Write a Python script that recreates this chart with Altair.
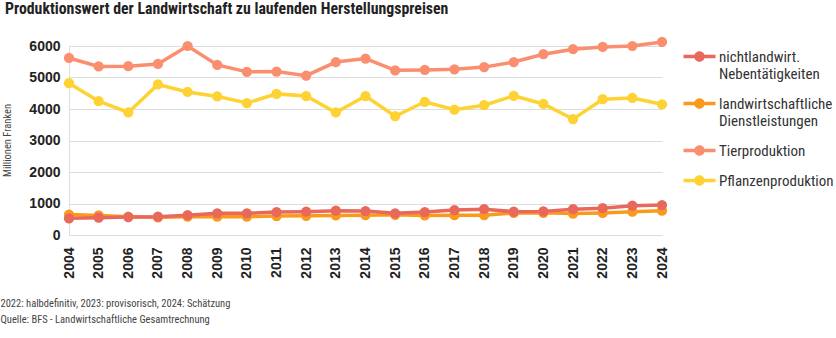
import altair as alt
import pandas as pd

years = list(range(2004, 2025))
nicht = [530, 550, 570, 580, 630, 690, 690, 730, 740, 770, 760, 690, 730, 790, 820, 740, 750, 820, 850, 930, 950]
dienst = [650, 620, 580, 560, 580, 580, 580, 600, 610, 620, 630, 640, 620, 630, 630, 700, 705, 680, 700, 740, 770]
tier = [5620, 5350, 5360, 5430, 6000, 5400, 5180, 5190, 5060, 5490, 5600, 5230, 5240, 5260, 5330, 5490, 5740, 5900, 5970, 6000, 6130]
pflanzen = [4820, 4250, 3890, 4780, 4540, 4400, 4190, 4480, 4410, 3890, 4410, 3770, 4230, 3980, 4120, 4420, 4160, 3680, 4310, 4350, 4150]

series_names = ["nichtlandwirt. Nebentätigkeiten", "landwirtschaftliche Dienstleistungen",
                "Tierproduktion", "Pflanzenproduktion"]
series_colors = ["#e8685b", "#f99a1c", "#fa8e6e", "#fdd232"]
draw_order = [("Pflanzenproduktion", pflanzen), ("Tierproduktion", tier),
              ("landwirtschaftliche Dienstleistungen", dienst), ("nichtlandwirt. Nebentätigkeiten", nicht)]

rows = []
for name, vals in draw_order:
    for y, v in zip(years, vals):
        rows.append({"Jahr": str(y), "Wert": v, "Serie": name})
df = pd.DataFrame(rows)

NARROW = "'Roboto Condensed', 'Liberation Sans Narrow', Lato, sans-serif"
BOLD = "'Liberation Sans', Arial, sans-serif"

# filled legend glyph: a thick bar with a dot in the middle (same winding for both parts)
legend_symbol = ("M-3.2,-0.35H3.2V0.35H-3.2Z"
                 "M-1.05,0A1.05,1.05 0 1,1 1.05,0A1.05,1.05 0 1,1 -1.05,0Z")

chart = alt.Chart(df).mark_line(
    strokeWidth=3.5,
    point=alt.OverlayMarkDef(filled=True, size=105, opacity=1),
    clip=False,
).encode(
    x=alt.X("Jahr:O", scale=alt.Scale(type="point", padding=0),
            axis=alt.Axis(labelAngle=270, labelAlign="right", labelBaseline="middle",
                          labelFont=BOLD, labelFontWeight="bold", labelFontSize=14,
                          labelColor="#222", labelPadding=12, ticks=False, domain=False,
                          grid=False,
                          title=["2022: halbdefinitiv, 2023: provisorisch, 2024: Schätzung",
                                 "Quelle: BFS - Landwirtschaftliche Gesamtrechnung"],
                          titleFont=NARROW, titleFontSize=10.5, titleFontWeight="normal",
                          titleColor="#444", titleAlign="left", titleAnchor="start",
                          titleBaseline="top", titleX=-69, titleY=63, titleLineHeight=16)),
    y=alt.Y("Wert:Q", scale=alt.Scale(domain=[0, 6000], nice=False),
            axis=alt.Axis(values=[0, 1000, 2000, 3000, 4000, 5000, 6000], format="d",
                          labelFont=BOLD, labelFontWeight="bold", labelFontSize=14,
                          labelColor="#222", labelPadding=9, ticks=False,
                          domain=True, domainColor="#dddddd", gridColor="#dddddd",
                          title="Millionen Franken", titleFont=NARROW, titleFontSize=10.5,
                          titleFontWeight="normal", titleColor="#444", titleAngle=270,
                          titleX=-62, titleY=94, titleBaseline="middle", titleAlign="center")),
    color=alt.Color("Serie:N", scale=alt.Scale(domain=series_names, range=series_colors),
                    legend=alt.Legend(title=None, orient="none", legendX=623, legendY=3,
                                      symbolType=legend_symbol, symbolSize=100,
                                      symbolStrokeWidth=0, labelOffset=12,
                                      labelFont=NARROW, labelFontSize=15, labelColor="#333",
                                      labelExpr="split(datum.label, ' ')",
                                      labelLimit=200, rowPadding=14, padding=0)),
    order=alt.value(0),
).properties(
    width=593, height=189,
    padding={"left": 69, "top": 46, "right": 174, "bottom": 103},
    autosize=alt.AutoSizeParams(type="none"),
    title=alt.TitleParams("Produktionswert der Landwirtschaft zu laufenden Herstellungspreisen",
                          anchor="start", frame="group", dx=-64, font=NARROW, fontSize=15.8,
                          fontWeight="bold", color="#222", offset=17),
).configure_view(stroke=None)

chart.save("out.html", embed_options={"renderer": "svg", "actions": False})
